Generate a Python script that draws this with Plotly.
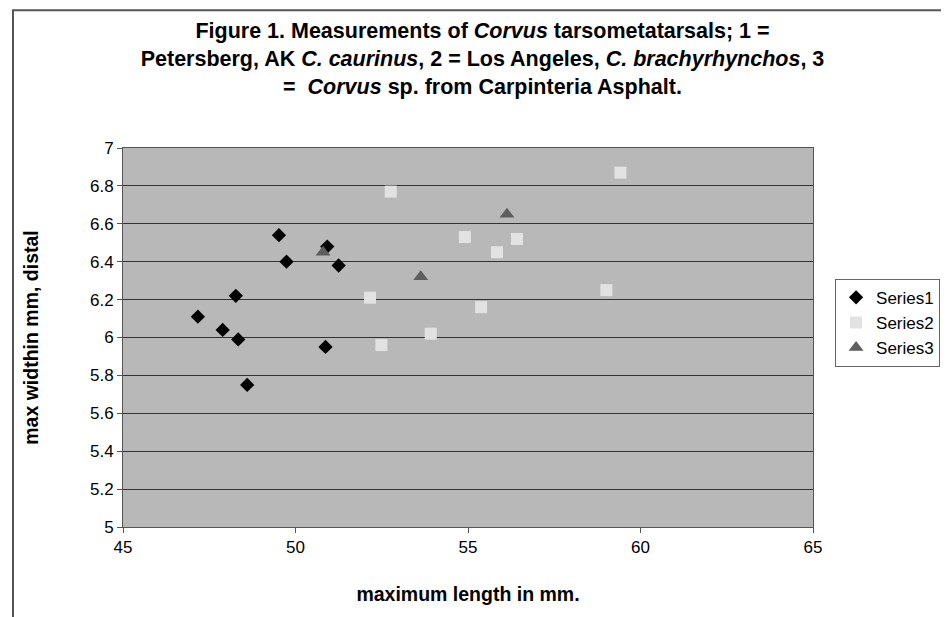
import plotly.graph_objects as go

s1_x = [49.52, 50.92, 49.74, 51.25, 48.27, 47.17, 47.89, 48.34, 50.87, 48.60]
s1_y = [6.54, 6.48, 6.40, 6.38, 6.22, 6.11, 6.04, 5.99, 5.95, 5.75]
s2_x = [52.76, 54.91, 56.42, 55.84, 52.16, 55.38, 53.92, 52.49, 59.42, 59.01]
s2_y = [6.77, 6.53, 6.52, 6.45, 6.21, 6.16, 6.02, 5.96, 6.87, 6.25]
s3_x = [50.80, 53.63, 56.13]
s3_y = [6.45, 6.32, 6.65]

FONT = "Arial, Liberation Sans, sans-serif"

fig = go.Figure()
fig.add_trace(go.Scatter(x=s1_x, y=s1_y, mode="markers", name="Series1",
                         marker=dict(symbol="diamond", size=11, color="#000000")))
fig.add_trace(go.Scatter(x=s2_x, y=s2_y, mode="markers", name="Series2",
                         marker=dict(symbol="square", size=12, color="#e2e2e2")))
fig.add_trace(go.Scatter(x=s3_x, y=s3_y, mode="markers", name="Series3",
                         marker=dict(symbol="triangle-up", size=13, color="#5e5e5e")))

title = ("<b>Figure 1. Measurements of <i>Corvus</i> tarsometatarsals; 1 =<br>"
         "Petersberg, AK <i>C. caurinus</i>, 2 = Los Angeles, <i>C. brachyrhynchos</i>, 3<br>"
         "=  <i>Corvus</i> sp. from Carpinteria Asphalt.</b>")

fig.update_layout(
    width=949, height=617,
    paper_bgcolor="white", plot_bgcolor="#b8b8b8",
    margin=dict(l=115, r=144, t=140, b=98),
    font=dict(family=FONT, size=17, color="black"),
    title=dict(text=title, x=0.5, xanchor="center", y=0.952, yanchor="top",
               font=dict(family=FONT, size=21.5, color="black")),
    showlegend=True,
    legend=dict(x=1.032, y=0.655, xanchor="left", yanchor="top",
                bordercolor="#666666", borderwidth=1, bgcolor="white",
                font=dict(family=FONT, size=17), itemwidth=30,
                tracegroupgap=0),
    xaxis=dict(range=[45, 65], tickvals=[45, 50, 55, 60, 65], showgrid=False,
               zeroline=False, showline=True, linecolor="#555555", linewidth=1,
               ticks="outside", ticklen=5, tickcolor="#555555",
               title=dict(text="<b>maximum length in mm.</b>", font=dict(size=19.5), standoff=30),
               tickfont=dict(size=17), mirror=True),
    yaxis=dict(range=[5, 7], tickvals=[5, 5.2, 5.4, 5.6, 5.8, 6, 6.2, 6.4, 6.6, 6.8, 7],
               ticktext=["5", "5.2", "5.4", "5.6", "5.8", "6", "6.2", "6.4", "6.6", "6.8", "7"],
               showgrid=True, gridcolor="#333333", gridwidth=1,
               zeroline=False, showline=True, linecolor="#555555", linewidth=1,
               ticks="outside", ticklen=5, tickcolor="#555555",
               title=dict(text="<b>max widthin mm, distal</b>", font=dict(size=19.5), standoff=46),
               tickfont=dict(size=17), mirror=True),
    shapes=[dict(type="rect", xref="paper", yref="paper",
                 x0=(5 - 115) / 690, x1=(960 - 115) / 690,
                 y0=(519 - 630) / 378.5, y1=(519 - 3) / 378.5,
                 line=dict(color="#555555", width=2), fillcolor="rgba(0,0,0,0)",
                 layer="below")],
)

fig.write_html("out.html")
